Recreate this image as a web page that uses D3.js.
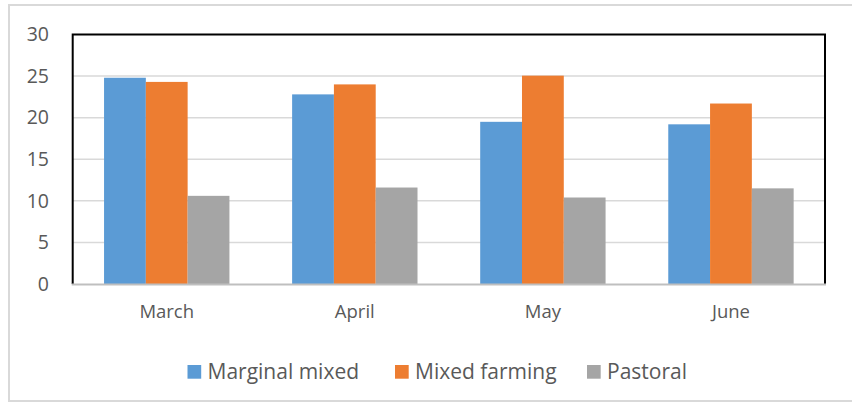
<!DOCTYPE html>
<html>
<head>
<meta charset="utf-8">
<script src="https://cdn.jsdelivr.net/npm/d3@7"></script>
<style>
  html, body { margin: 0; padding: 0; background: #fff; }
  svg { display: block; font-family: "Open Sans", sans-serif; }
</style>
</head>
<body>
<svg id="chart" width="852" height="402"></svg>
<script>
const categories = ["March", "April", "May", "June"];
const seriesNames = ["Marginal mixed", "Mixed farming", "Pastoral"];
const marginalMixed = [24.8, 22.8, 19.5, 19.2];
const mixedFarming = [24.3, 24.0, 25.05, 21.7];
const pastoral = [10.6, 11.6, 10.4, 11.5];
const yTicks = [0, 5, 10, 15, 20, 25, 30];
const colors = ["#5b9bd5", "#ed7d31", "#a5a5a5"];

const seriesValues = [marginalMixed, mixedFarming, pastoral];
const svg = d3.select("#chart");

// outer chart border
svg.append("rect")
  .attr("x", 9).attr("y", 5)
  .attr("width", 860).attr("height", 396)
  .attr("fill", "none").attr("stroke", "#d9d9d9").attr("stroke-width", 2);

const pL = 72.7, pR = 825, pT = 34.5, pB = 284;

const x = d3.scaleBand().domain(categories).range([pL, pR]).paddingInner(0).paddingOuter(0);
const groupW = x.step() * 3 / 4.5;
const xs = d3.scaleBand().domain(seriesNames).range([0, groupW]);
const y = d3.scaleLinear().domain([0, 30]).range([pB, pT]);

// gridlines
svg.append("g").selectAll("line").data(yTicks.filter(t => t > 0 && t < 30)).join("line")
  .attr("x1", pL).attr("x2", pR)
  .attr("y1", d => y(d)).attr("y2", d => y(d))
  .attr("stroke", "#d9d9d9").attr("stroke-width", 1.5);

// bars
const groups = svg.append("g").selectAll("g").data(categories).join("g")
  .attr("transform", c => `translate(${x(c) + (x.step() - groupW) / 2},0)`);
groups.selectAll("rect").data((c, i) => seriesNames.map((s, j) => ({ s, j, v: seriesValues[j][i] })))
  .join("rect")
  .attr("x", d => xs(d.s))
  .attr("width", xs.bandwidth())
  .attr("y", d => y(d.v))
  .attr("height", d => y(0) - y(d.v))
  .attr("fill", d => colors[d.j]);

// plot border (black left, top, right)
svg.append("path")
  .attr("d", `M${pL},${pB}V${pT}H${pR}V${pB}`)
  .attr("fill", "none").attr("stroke", "#000").attr("stroke-width", 2);

// x axis line
svg.append("line")
  .attr("x1", pL - 1).attr("x2", pR + 1)
  .attr("y1", pB + 0.5).attr("y2", pB + 0.5)
  .attr("stroke", "#bfbfbf").attr("stroke-width", 2);

// y labels
svg.append("g").selectAll("text").data(yTicks).join("text")
  .attr("x", 49).attr("y", d => y(d))
  .attr("dy", "0.35em")
  .attr("text-anchor", "end")
  .attr("font-size", 19.5)
  .attr("fill", "#595959")
  .text(d => d);

// x labels
svg.append("g").selectAll("text").data(categories).join("text")
  .attr("x", c => x(c) + x.bandwidth() / 2)
  .attr("y", 318)
  .attr("text-anchor", "middle")
  .attr("font-size", 18.5)
  .attr("fill", "#595959")
  .text(c => c);

// legend
const legendX = [187.5, 395, 587];
const lg = svg.append("g").selectAll("g").data(seriesNames).join("g")
  .attr("transform", (d, i) => `translate(${legendX[i]},365)`);
lg.append("rect").attr("width", 13.7).attr("height", 13.7).attr("fill", (d, i) => colors[i]);
lg.append("text").attr("x", 20).attr("y", 7).attr("dy", "0.35em")
  .attr("font-size", 21).attr("fill", "#595959").text(d => d);
</script>
</body>
</html>
